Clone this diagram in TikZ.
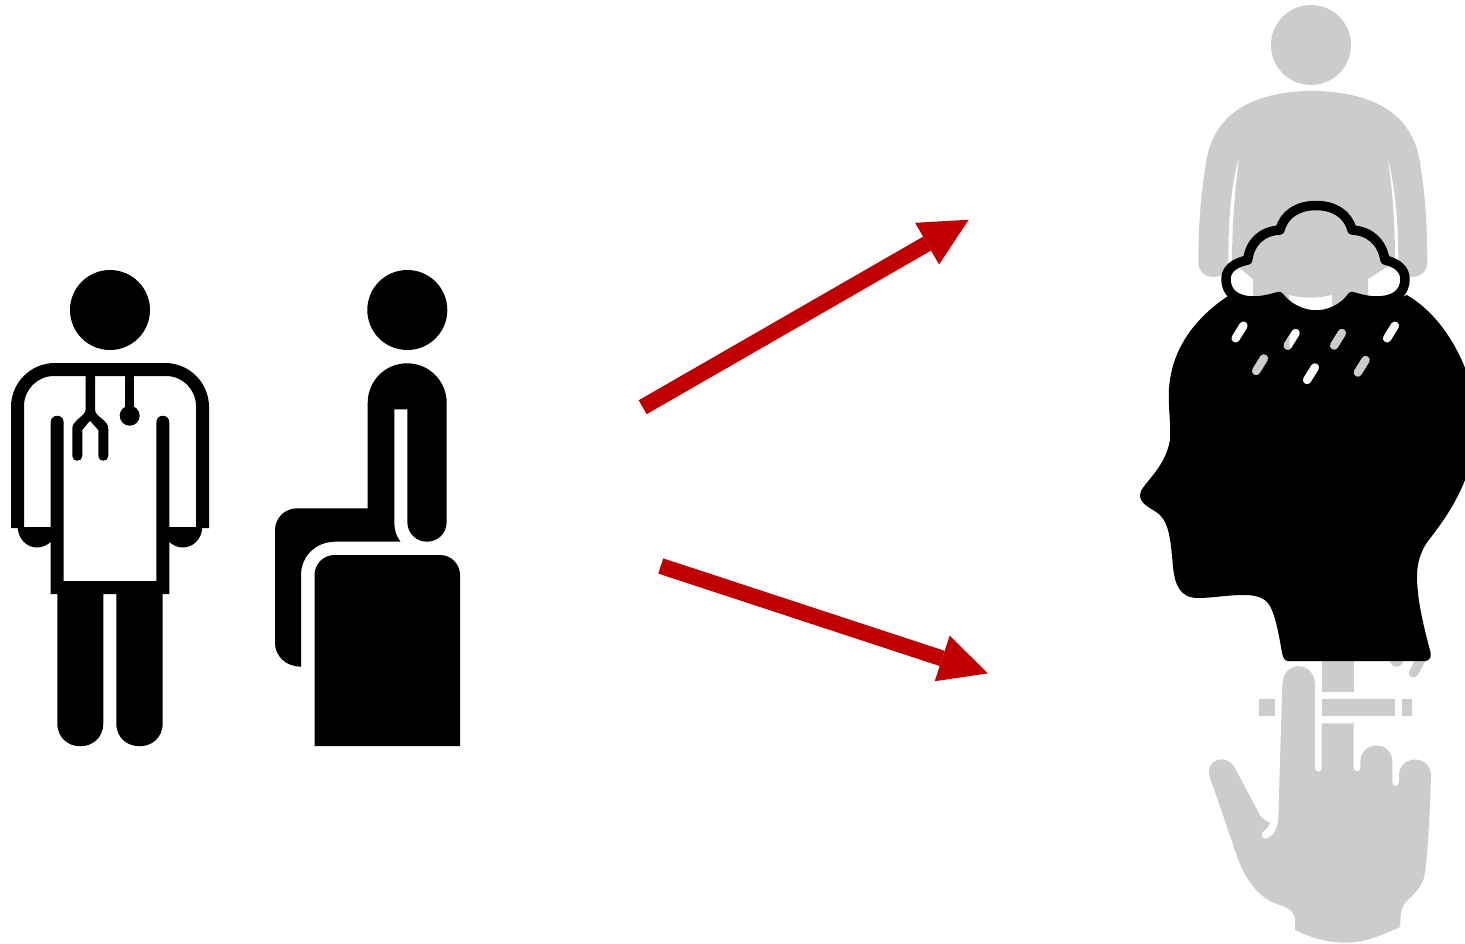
\documentclass[tikz,border=0pt]{standalone}
\usetikzlibrary{arrows.meta}
\definecolor{arrowred}{HTML}{C00000}
\definecolor{ghost}{HTML}{CCCCCC}
\tikzset{
  bigarrow/.style={draw=arrowred,line width=16pt,-{Triangle[length=48pt,width=48pt,line width=0pt,fill=arrowred]}},
  drop/.style={line width=8.4pt,line cap=round},
}
\begin{document}
\begin{tikzpicture}[x=1pt,y=-1pt]
\useasboundingbox (0,0) rectangle (1465,944);
\clip (0,0) rectangle (1465,944);
% ---------- doctor
\fill (110,310) circle[radius=40pt];
\fill (11,528) [rounded corners=44pt] -- (11,363) -- (209,363) [sharp corners] -- (209,528) -- (196,528) [rounded corners=30pt] -- (196,376) -- (24,376) [sharp corners] -- (24,528) -- cycle;
\fill (17.7,527) .. controls (18,539) and (27,547.5) .. (36.7,547.5) .. controls (42,547.5) and (47,545.5) .. (52,541) -- (52,527) -- cycle;
\fill (202.3,527) .. controls (202,539) and (193,547.5) .. (182.7,547.5) .. controls (178,547.5) and (173,545.5) .. (168,541) -- (168,527) -- cycle;
\fill (50.7,594) -- (50.7,422.5) .. controls (50.7,413.5) and (63.7,413.5) .. (63.7,422.5) -- (63.7,581) -- (156.3,581) -- (156.3,422.5) .. controls (156.3,413.5) and (169.3,413.5) .. (169.3,422.5) -- (169.3,594) -- cycle;
\fill (57.3,590) -- (57.3,723) .. controls (57.3,754) and (103.3,754) .. (103.3,723) -- (103.3,590) -- cycle;
\fill (116.3,590) -- (116.3,723) .. controls (116.3,754) and (162.7,754) .. (162.7,723) -- (162.7,590) -- cycle;
% stethoscope
\fill (85.5,375) -- (95,375) -- (95,410) .. controls (95,414) and (100,417) .. (104,420.5) .. controls (106.5,423) and (108.3,425) .. (108.3,429) -- (108.3,456) .. controls (108.3,462.3) and (98.3,462.3) .. (98.3,456) -- (98.3,430) -- (90,420.7) -- (82.3,430) -- (82.3,456) .. controls (82.3,462.3) and (72.3,462.3) .. (72.3,456) -- (72.3,429) .. controls (72.3,425) and (74,423) .. (76.5,420.5) .. controls (80,417) and (85.5,414) .. (85.5,410) -- cycle;
\fill (125,375) rectangle (134.3,410);
\fill (129.7,415.7) circle[radius=10pt];
% ---------- patient
\fill (407.3,310) circle[radius=40pt];
\fill (367.7,508.3) -- (367.7,403) .. controls (367.7,381) and (385,363.3) .. (407.2,363.3) .. controls (429,363.3) and (446.7,381) .. (446.7,403) -- (446.7,521.7) .. controls (446.7,533) and (438,541.7) .. (427,541.7) .. controls (416,541.7) and (407.3,533) .. (407.3,521.7) -- (407.3,409.3) -- (394.3,409.3) -- (394.3,523) .. controls (394.3,530) and (396.5,536.5) .. (400.5,541.7) -- (335,541.7) .. controls (316,541.7) and (301,556) .. (301,575) -- (301,666.7) .. controls (286,666.7) and (275,656) .. (275,643) -- (275,530) .. controls (275,518) and (285,508.3) .. (297,508.3) -- cycle;
\fill (314.5,746) [rounded corners=20pt] -- (314.5,555) -- (460,555) [sharp corners] -- (460,746) -- cycle;
% ---------- arrows
\coordinate (a1s) at (642.7,407.2);
\coordinate (a1e) at (968.7,219.7);
\coordinate (a2s) at (660.8,566);
\coordinate (a2e) at (987.8,673.4);
\draw[bigarrow] (a1s) -- (a1e);
\draw[bigarrow] (a2s) -- (a2e);
% ---------- grey person
\fill[ghost] (1311,45) circle[radius=40pt];
\fill[ghost] (1311.7,90.7) .. controls (1250,92) and (1210,115) .. (1205,170) .. controls (1200,200) and (1198.3,235) .. (1198.3,262) .. controls (1198.3,282) and (1228.3,282) .. (1228.3,262) .. controls (1228.3,220) and (1231,185) .. (1239,157) .. controls (1235,190) and (1232,225) .. (1232,262) -- (1253,279) -- (1253,400) -- (1289,400) -- (1289,295) .. controls (1303,298.5) and (1318,298.5) .. (1332,295) -- (1332,400) -- (1368,400) -- (1368,279) -- (1395,262) .. controls (1395,225) and (1393,190) .. (1387,155) .. controls (1395,185) and (1398.3,220) .. (1398.3,262) .. controls (1398.3,282) and (1427.3,282) .. (1427.3,262) .. controls (1427.3,235) and (1426,200) .. (1421,170) .. controls (1416,115) and (1376,92) .. cycle;
% ---------- grey hand and panel
\fill[ghost] (1321.7,655) rectangle (1353.7,691.7);
\fill[ghost] (1321.7,699) rectangle (1395,716);
\fill[ghost] (1401.5,699) rectangle (1411.7,716);
\fill[ghost] (1259,699) rectangle (1275,716);
\fill[ghost] (1396.7,660) circle[radius=6.7pt];
\draw[ghost,line width=9.5pt,line cap=round] (1421.7,658) -- (1413.5,673);
\fill[ghost] (1282.3,685) .. controls (1282.3,660) and (1315,660) .. (1315,685) -- (1315,768) .. controls (1315,772.8) and (1321.7,772.8) .. (1321.7,768) -- (1321.7,723.3) -- (1353.7,723.3) -- (1353.7,768) .. controls (1353.7,772.5) and (1360.3,772.5) .. (1360.3,768) -- (1360.3,762) .. controls (1360.3,740) and (1392.3,740) .. (1392.3,762) -- (1392.3,782) .. controls (1392.3,787.5) and (1399,787.5) .. (1399,782) -- (1399,776) .. controls (1399,754) and (1431,754) .. (1431,776) .. controls (1430,810) and (1428,850) .. (1425,873) .. controls (1423,888) and (1412,895) .. (1405,903) .. controls (1401,908) and (1400.7,915) .. (1400,927) .. controls (1385,934) and (1365,942.7) .. (1346.7,942.7) .. controls (1325,942.7) and (1310,937) .. (1295,930) -- (1295,918) .. controls (1292,908) and (1285,907) .. (1277,904) .. controls (1262,899) and (1248,885) .. (1238.3,860) .. controls (1228,830) and (1218,800) .. (1210,778) .. controls (1204,758) and (1228,752) .. (1236,770) -- (1258.3,812) .. controls (1260,818) and (1266,821) .. (1270,822.7) .. controls (1269,828) and (1264,830) .. (1262,833) .. controls (1260,838) and (1265,840) .. (1268,838) .. controls (1274,835) and (1278,828) .. (1278.3,818) -- cycle;
% ---------- head
\fill (1406.7,295) .. controls (1430,308) and (1452,335) .. (1465,368) -- (1480,368) -- (1480,470) -- (1465,480) .. controls (1455,505) and (1442,523) .. (1428,541) .. controls (1418,555) and (1416,570) .. (1417.3,585) .. controls (1419,610) and (1426,635) .. (1430.7,653) .. controls (1431.5,657) and (1429,661) .. (1425,661) -- (1288,661) .. controls (1285,661) and (1283,658) .. (1282,653) .. controls (1279,635) and (1275,612) .. (1268,603) .. controls (1262,596) and (1252,595) .. (1243,595) .. controls (1228,595) and (1212,598) .. (1198,598) .. controls (1180,598) and (1175,585) .. (1173,567) .. controls (1171,545) and (1170,525) .. (1160,515) .. controls (1152,508) and (1140,505) .. (1140,495) .. controls (1140,485) and (1165,470) .. (1170,440) .. controls (1171,425) and (1168.5,410) .. (1168.8,393) .. controls (1170,350) and (1195,318) .. (1228,296) -- (1240,301) -- (1254,301) .. controls (1262,301) and (1270,299) .. (1279,296.5) .. controls (1288,308) and (1302,315) .. (1316,315) .. controls (1330,315) and (1344,308) .. (1352,296.5) .. controls (1360,299) and (1368,301) .. (1376,301) -- (1395,300) -- cycle;
% ---------- cloud
\draw[line width=9.5pt,line join=round] (1247.7,260) .. controls (1250,242) and (1262,231) .. (1280,230) .. controls (1284,214) and (1298,205.5) .. (1316,205.5) .. controls (1334,205.5) and (1348,214) .. (1352,230) .. controls (1370,231) and (1382,242) .. (1385,260) .. controls (1398,263) and (1405,270) .. (1405,279) .. controls (1405,293) and (1395,301) .. (1376,301) .. controls (1368,301) and (1360,299) .. (1352,296.5) .. controls (1344,308) and (1330,315) .. (1316,315) .. controls (1302,315) and (1288,308) .. (1279,296.5) .. controls (1270,299) and (1262,301) .. (1254,301) .. controls (1236,301) and (1226,293) .. (1226,279) .. controls (1226,270) and (1233,263) .. cycle;
% ---------- rain drops
\draw[white,drop] (1235.6,338.3) -- (1243.4,325.7);
\draw[white,drop] (1287.8,345.6) -- (1295.6,333);
\begin{scope}
\clip (1270,320) rectangle (1289.5,360);
\draw[ghost,drop] (1287.8,345.6) -- (1295.6,333);
\end{scope}
\draw[ghost,drop] (1334.1,345.6) -- (1341.9,333);
\draw[white,drop] (1387.1,338.3) -- (1394.9,325.7);
\draw[ghost,drop] (1256.1,371) -- (1263.9,358.4);
\draw[white,drop] (1307.1,380) -- (1314.9,367.4);
\draw[ghost,drop] (1357.8,372.6) -- (1365.6,360);
\end{tikzpicture}
\end{document}
